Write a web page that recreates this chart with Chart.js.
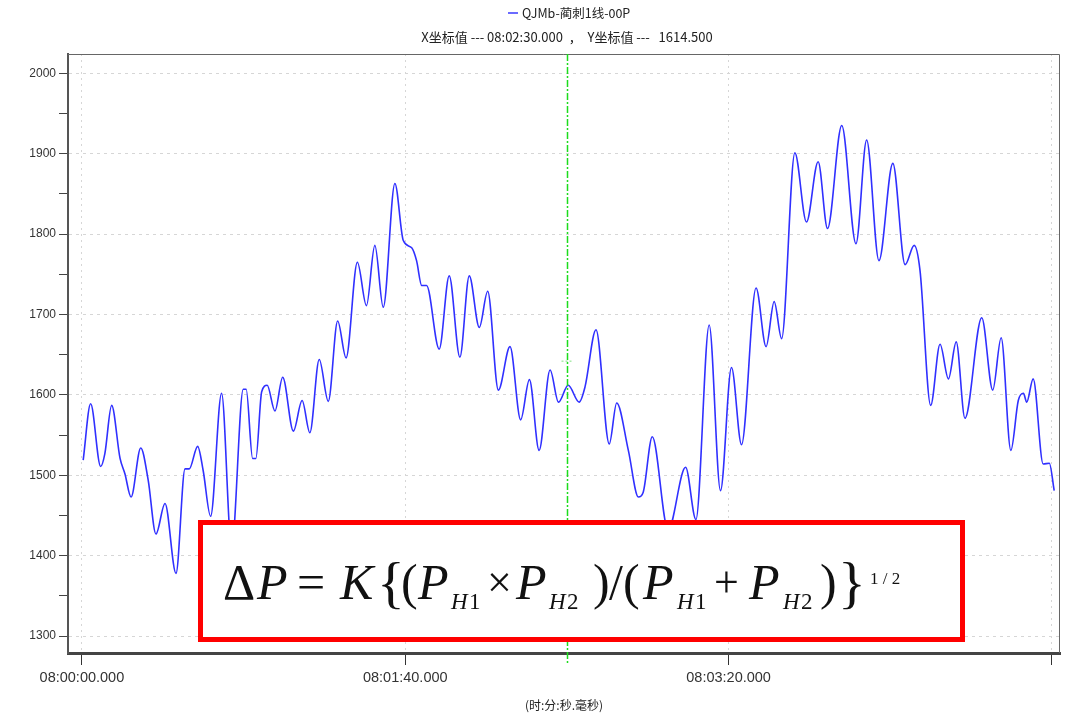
<!DOCTYPE html>
<html>
<head>
<meta charset="utf-8">
<script src="https://cdn.jsdelivr.net/npm/chart.js@4.4.1/dist/chart.umd.min.js"></script>
<style>
    html, body { margin: 0; padding: 0; background: #fff; }
    #wrap { position: relative; width: 1068px; height: 715px; }
</style>
</head>
<body>
<div id="wrap"><canvas id="trendChart" width="1068" height="715"></canvas></div>
<script>
// Dados (segundos depois de 08:00:00 / valor)
const seriesName = 'QJMb-蔺刺1线-00P';
const times = [
    0.4, 2.7, 5.8, 7.1, 9.2, 11.8, 13.3, 15.2, 18.2, 20.5, 22.9, 25.7, 29.1, 31.9, 33.2,
    35.8, 37.5, 39.8, 43.2, 46.3, 49.9, 50.8, 52.8, 53.8, 55.6, 57.3, 59.7, 62.1, 65.4, 68.1,
    70.5, 73.4, 76.2, 79.1, 81.7, 85.2, 88.0, 90.6, 93.2, 96.8, 99.4, 102.0, 103.5, 105.1, 106.6,
    110.5, 113.6, 116.9, 119.8, 122.9, 125.5, 128.8, 132.4, 135.7, 138.4, 141.4, 144.8, 147.4, 150.4, 153.8,
    155.6, 159.0, 163.1, 165.4, 169.0, 172.1, 173.6, 176.4, 181.3, 186.7, 189.9, 194.0, 197.5, 200.9, 204.0,
    208.5, 211.6, 214.1, 216.4, 220.5, 224.1, 227.7, 230.6, 235.0, 239.4, 242.7, 246.5, 250.8, 254.6, 257.4,
    259.2, 262.5, 265.4, 268.0, 270.4, 273.1, 278.3, 281.7, 284.3, 287.3, 289.6, 291.2, 292.2, 294.2, 297.3,
    299.2, 300.7
];
const values = [
    1519, 1589, 1511, 1527, 1587, 1521, 1502, 1473, 1534, 1494, 1427, 1465, 1378, 1508, 1508,
    1536, 1506, 1449, 1602, 1410, 1607, 1607, 1521, 1521, 1604, 1612, 1580, 1622, 1555, 1593,
    1553, 1644, 1592, 1692, 1646, 1765, 1711, 1786, 1709, 1863, 1792, 1783, 1767, 1736, 1736,
    1657, 1748, 1647, 1748, 1684, 1729, 1606, 1660, 1569, 1619, 1531, 1631, 1591, 1612, 1591,
    1610, 1681, 1539, 1590, 1531, 1473, 1479, 1548, 1432, 1510, 1445, 1687, 1481, 1634, 1538,
    1733, 1660, 1716, 1670, 1901, 1815, 1890, 1807, 1935, 1788, 1917, 1767, 1888, 1762, 1786,
    1755, 1587, 1663, 1620, 1666, 1571, 1696, 1606, 1671, 1531, 1593, 1602, 1591, 1620, 1514,
    1515, 1481
];
const xTicks = [0, 100, 200, 300];
const xTickLabels = ['08:00:00.000', '08:01:40.000', '08:03:20.000', ''];
const yTicks = [1300, 1350, 1400, 1450, 1500, 1550, 1600, 1650, 1700, 1750, 1800, 1850, 1900, 1950, 2000];
const cursorTime = 150;
const cursorLabel = 'X坐标值 --- 08:02:30.000  ，  Y坐标值 ---   1614.500';
const cursorMarkValue = 1642;

const points = times.map((t, i) => ({ x: t, y: values[i] }));

// Cabeçalho (legenda + leitura do cursor)
const headerPlugin = {
    id: 'header',
    afterDraw(chart) {
        const ctx = chart.ctx;
        ctx.save();
        ctx.strokeStyle = '#6b6bff';
        ctx.lineWidth = 2;
        ctx.beginPath();
        ctx.moveTo(508, 13);
        ctx.lineTo(518, 13);
        ctx.stroke();
        ctx.fillStyle = '#222';
        ctx.font = '12.5px "Noto Sans CJK SC", "Liberation Sans", sans-serif';
        ctx.textBaseline = 'middle';
        ctx.textAlign = 'left';
        ctx.fillText(seriesName, 522, 13);
        ctx.font = '13px "Noto Sans CJK SC", "Liberation Sans", sans-serif';
        ctx.textAlign = 'center';
        ctx.fillText(cursorLabel, 567, 37);
        ctx.restore();
    }
};

// Borda de cima/direita e cursor verde
const frameCursorPlugin = {
    id: 'frameCursor',
    afterDatasetsDraw(chart) {
        const ctx = chart.ctx;
        const a = chart.chartArea;
        const xs = chart.scales.x, ys = chart.scales.y;
        ctx.save();
        ctx.strokeStyle = '#666';
        ctx.lineWidth = 1;
        ctx.beginPath();
        ctx.moveTo(a.left, a.top + 0.5);
        ctx.lineTo(a.right - 0.5, a.top + 0.5);
        ctx.lineTo(a.right - 0.5, a.bottom);
        ctx.stroke();

        const cx = Math.round(xs.getPixelForValue(cursorTime)) + 0.5;
        ctx.strokeStyle = '#1cdc1c';
        ctx.lineWidth = 1.5;
        ctx.setLineDash([7, 2, 2, 2]);
        ctx.beginPath();
        ctx.moveTo(cx, a.top);
        ctx.lineTo(cx, a.bottom + 10);
        ctx.stroke();
        const my = ys.getPixelForValue(cursorMarkValue);
        ctx.setLineDash([2, 2]);
        ctx.lineWidth = 1;
        ctx.strokeStyle = '#7fe07f';
        ctx.beginPath();
        ctx.moveTo(cx - 6, my);
        ctx.lineTo(cx + 6, my);
        ctx.stroke();
        ctx.restore();
    }
};

// Caixa vermelha com a fórmula
const formulaPlugin = {
    id: 'formula',
    afterDraw(chart) {
        const ctx = chart.ctx;
        ctx.save();
        ctx.fillStyle = '#fff';
        ctx.fillRect(198, 520, 767, 122);
        ctx.strokeStyle = '#ff0000';
        ctx.lineWidth = 5;
        ctx.strokeRect(200.5, 522.5, 762, 117);

        const fonts = {
            it: 'italic 50px "Liberation Serif", serif',
            up: '50px "Liberation Serif", serif',
            op: '44px "Liberation Serif", serif',
            br: '58px "Liberation Serif", serif',
            subIt: 'italic 23px "Liberation Serif", serif',
            subUp: '23px "Liberation Serif", serif',
            sup: '17px "Liberation Serif", serif'
        };
        const base = 599;
        const parts = [
            ['Δ', 223, 0, 'up'], ['P', 257, 0, 'it'], ['=', 297, 0, 'up'], ['K', 340, 0, 'it'],
            ['{', 377, 3, 'br'], ['(', 401, 0, 'up'], ['P', 418, 0, 'it'], ['H', 451, 10, 'subIt'], ['1', 469, 10, 'subUp'],
            ['×', 487, -2, 'op'], ['P', 516, 0, 'it'], ['H', 549, 10, 'subIt'], ['2', 567, 10, 'subUp'],
            [')', 593, 0, 'up'], ['/', 609, 0, 'up'], ['(', 623, 0, 'up'], ['P', 643, 0, 'it'],
            ['H', 677, 10, 'subIt'], ['1', 695, 10, 'subUp'], ['+', 714, -2, 'op'], ['P', 749, 0, 'it'],
            ['H', 783, 10, 'subIt'], ['2', 801, 10, 'subUp'], [')', 820, 0, 'up'], ['}', 838, 3, 'br'],
            ['1 / 2', 870, -15, 'sup']
        ];
        ctx.fillStyle = '#111';
        ctx.textBaseline = 'alphabetic';
        ctx.textAlign = 'left';
        parts.forEach(p => {
            ctx.font = fonts[p[3]];
            ctx.fillText(p[0], p[1], base + p[2]);
        });
        ctx.restore();
    }
};

const TrendChart = {
    init: function() {
        const canvas = document.getElementById('trendChart');
        if (!canvas) return;
        const ctx = canvas.getContext('2d');

        new Chart(ctx, {
            type: 'line',
            data: {
                datasets: [{
                    label: seriesName,
                    data: points,
                    borderColor: '#3030ff',
                    borderWidth: 1.6,
                    pointRadius: 0,
                    cubicInterpolationMode: 'monotone',
                    fill: false
                }]
            },
            options: {
                responsive: false,
                animation: false,
                devicePixelRatio: 1,
                layout: { padding: { top: 54, right: 8, left: 0, bottom: 0 } },
                plugins: {
                    legend: { display: false },
                    title: { display: false },
                    tooltip: { enabled: false }
                },
                scales: {
                    x: {
                        type: 'linear',
                        min: -4.3,
                        max: 302.5,
                        afterBuildTicks: (scale) => { scale.ticks = xTicks.map(v => ({ value: v })); },
                        afterFit: (scale) => { scale.height = 62; },
                        ticks: {
                            autoSkip: false,
                            maxRotation: 0,
                            padding: 4,
                            color: '#333',
                            font: { family: '"Liberation Sans", Arial, sans-serif', size: 14.5 },
                            callback: (v) => xTickLabels[xTicks.indexOf(v)]
                        },
                        grid: {
                            color: '#d6d6d6',
                            lineWidth: 1,
                            tickColor: '#333',
                            tickLength: 12,
                            tickWidth: 1
                        },
                        border: { color: '#444', width: 3, dash: [2, 4] },
                        title: {
                            display: true,
                            text: '(时:分:秒.毫秒)',
                            color: '#222',
                            font: { family: '"Noto Sans CJK SC", sans-serif', size: 12 },
                            padding: { top: 0, bottom: 2 }
                        }
                    },
                    y: {
                        min: 1279,
                        max: 2024,
                        afterBuildTicks: (scale) => { scale.ticks = yTicks.map(v => ({ value: v })); },
                        afterFit: (scale) => { scale.width = 68; },
                        ticks: {
                            padding: 3,
                            color: '#333',
                            font: { family: '"Liberation Sans", Arial, sans-serif', size: 12 },
                            callback: (v) => (v % 100 === 0 ? String(v) : '')
                        },
                        grid: {
                            color: (c) => (c.tick && c.tick.value % 100 === 0 ? '#d6d6d6' : 'rgba(0,0,0,0)'),
                            lineWidth: 1,
                            tickColor: '#444',
                            tickLength: 9,
                            tickWidth: 1
                        },
                        border: { color: '#555', width: 2, dash: [3, 4] }
                    }
                }
            },
            plugins: [frameCursorPlugin, formulaPlugin, headerPlugin]
        });
    }
};

document.addEventListener('DOMContentLoaded', function() {
    TrendChart.init();
});
</script>
</body>
</html>
